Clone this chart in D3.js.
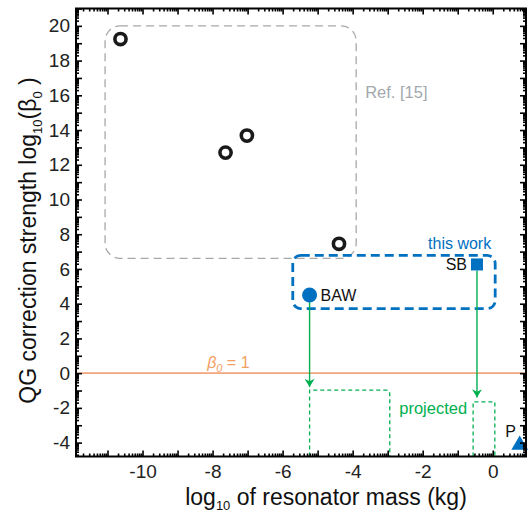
<!DOCTYPE html>
<html>
<head>
<meta charset="utf-8">
<script src="https://d3js.org/d3.v7.min.js"></script>
<style>
    body { margin: 0; background: #fff; }
    svg text { font-family: 'Liberation Sans', Arial, Helvetica, sans-serif; }
    .tick text { font-size: 19px; fill: #222; }
</style>
</head>
<body>
<svg id="chart" width="529" height="515"></svg>
<script>
// ---- data ----
var refMass = [-10.63, -7.63, -7.02, -4.39];          // Ref. [15]
var refBeta = [19.24, 12.70, 13.68, 7.45];
var workLabels = ["BAW", "SB"];                        // this work
var workMass = [-5.23, -0.45];
var workBeta = [4.50, 6.26];
var arrowTip = [-0.80, -1.40];                          // projected arrows end
var projLeft = [-5.23, -0.56];                          // projected boxes
var projRight = [-2.94, 0.06];
var projTop = [-0.98, -1.65];
var pMass = [0.77];                                     // "P" point
var pBeta = [-4.08];
var refBox = [-11.07, -3.90, 6.61, 20.0];               // x0, x1, y0, y1
var workBox = [-5.71, 0.07, 3.72, 6.78];
var xTickLabels = [-10, -8, -6, -4, -2, 0];
var yTickLabels = [-4, -2, 0, 2, 4, 6, 8, 10, 12, 14, 16, 18, 20];
var xDomain = [-11.9, 0.95];
var yDomain = [-4.8, 21];

var blue = "#0070c0", green = "#00b050", orange = "#f2a57c", grey = "#a8a8a8";

var svg = d3.select("#chart");
var pl = 76, pr = 526, pt = 8.5, pb = 456.5;

var x = d3.scaleLinear().domain(xDomain).range([pl, pr]);
var y = d3.scaleLinear().domain(yDomain).range([pb, pt]);

// log-style ticks: integers as majors, log10(2..9) minors
function majors(dom) {
    return d3.range(Math.ceil(dom[0]), Math.floor(dom[1]) + 1);
}
function minors(dom) {
    var out = [];
    for (var n = Math.floor(dom[0]); n <= Math.ceil(dom[1]); n++) {
        for (var k = 2; k <= 9; k++) {
            var v = n + Math.log10(k);
            if (v > dom[0] && v < dom[1]) out.push(v);
        }
    }
    return out;
}
function lab(list) {
    return function(d) { return list.indexOf(d) >= 0 ? String(d) : ""; };
}

function drawAxis(axisFn, scale, pos, dom, labels, pad) {
    var gMaj = svg.append("g").attr("transform", pos)
        .call(axisFn(scale).tickValues(majors(dom)).tickSize(-6).tickPadding(pad)
            .tickFormat(labels ? lab(labels) : ""));
    var gMin = svg.append("g").attr("transform", pos)
        .call(axisFn(scale).tickValues(minors(dom)).tickSize(-3).tickFormat(""));
    [gMaj, gMin].forEach(function(g) {
        g.select(".domain").remove();
        g.selectAll("line").attr("stroke", "#000").attr("stroke-width", 1.6);
    });
}

// reference line beta0 = 1
svg.append("line")
    .attr("x1", pl).attr("x2", pr)
    .attr("y1", y(0)).attr("y2", y(0))
    .attr("stroke", orange).attr("stroke-width", 1.6);

svg.append("text")
    .attr("x", x(-7.55)).attr("y", y(0) - 5)
    .attr("text-anchor", "middle")
    .attr("fill", "#f0a060")
    .style("font-size", "16px")
    .html("<tspan font-style='italic'>β</tspan><tspan dy='4' font-size='11' font-style='italic'>0</tspan><tspan dy='-4'> = 1</tspan>");

// Ref. [15] dashed box
svg.append("rect")
    .attr("x", x(refBox[0])).attr("y", y(refBox[3]))
    .attr("width", x(refBox[1]) - x(refBox[0]))
    .attr("height", y(refBox[2]) - y(refBox[3]))
    .attr("rx", 15).attr("ry", 15)
    .attr("fill", "none").attr("stroke", grey)
    .attr("stroke-width", 1.3).attr("stroke-dasharray", "8,5");

svg.append("text")
    .attr("x", x(refBox[1]) + 9).attr("y", y(refBox[3]) + 72)
    .attr("fill", "#a3a8ad").style("font-size", "16.5px")
    .text("Ref. [15]");

// this work dashed box
svg.append("rect")
    .attr("x", x(workBox[0])).attr("y", y(workBox[3]))
    .attr("width", x(workBox[1]) - x(workBox[0]))
    .attr("height", y(workBox[2]) - y(workBox[3]))
    .attr("rx", 8).attr("ry", 8)
    .attr("fill", "none").attr("stroke", blue)
    .attr("stroke-width", 2.8).attr("stroke-dasharray", "9,5");

svg.append("text")
    .attr("x", x(workBox[1]) - 4).attr("y", y(workBox[3]) - 6)
    .attr("text-anchor", "end")
    .attr("fill", blue).style("font-size", "16px")
    .text("this work");

// projected boxes
projLeft.forEach(function(l, i) {
    var r = i === 0 ? 4 : 0;
    var x0 = x(l), x1 = x(projRight[i]), yt = y(projTop[i]), yb = pb;
    var p = "M" + x0 + "," + yb + "V" + yt + "H" + (x1 - r) +
        (r ? "Q" + x1 + "," + yt + " " + x1 + "," + (yt + r) : "") + "V" + yb;
    svg.append("path").attr("d", p)
        .attr("fill", "none").attr("stroke", green)
        .attr("stroke-width", 1.3).attr("stroke-dasharray", "4,3");
});

svg.append("text")
    .attr("x", x(-1.7)).attr("y", y(projTop[1]) + 12)
    .attr("text-anchor", "middle")
    .attr("fill", green).style("font-size", "16.5px")
    .text("projected");

// arrows
var defs = svg.append("defs");
defs.append("marker")
    .attr("id", "head").attr("markerUnits", "userSpaceOnUse")
    .attr("viewBox", "0 0 10 12").attr("refX", 10).attr("refY", 6)
    .attr("markerWidth", 13).attr("markerHeight", 10)
    .attr("orient", "auto")
    .append("path").attr("d", "M0,0L10,6L0,12L3,6Z").attr("fill", green);

workMass.forEach(function(m, i) {
    svg.append("line")
        .attr("x1", x(m)).attr("x2", x(m))
        .attr("y1", y(workBeta[i]) + 6).attr("y2", y(arrowTip[i]))
        .attr("stroke", green).attr("stroke-width", 1.4)
        .attr("marker-end", "url(#head)");
});

// Ref. [15] open circles
svg.selectAll(".ref").data(refMass).enter().append("circle")
    .attr("class", "ref")
    .attr("cx", function(d) { return x(d); })
    .attr("cy", function(d, i) { return y(refBeta[i]); })
    .attr("r", 5.6)
    .attr("fill", "#fff").attr("stroke", "#1a1a1a").attr("stroke-width", 3.6);

// BAW circle, SB square
svg.append("circle")
    .attr("cx", x(workMass[0])).attr("cy", y(workBeta[0])).attr("r", 7.5)
    .attr("fill", blue);
svg.append("rect")
    .attr("x", x(workMass[1]) - 6).attr("y", y(workBeta[1]) - 6)
    .attr("width", 12).attr("height", 12)
    .attr("fill", blue);

svg.append("text")
    .attr("x", x(workMass[0]) + 11).attr("y", y(workBeta[0]))
    .attr("dy", "0.35em").style("font-size", "16px").attr("fill", "#111")
    .text(workLabels[0]);
svg.append("text")
    .attr("x", x(workMass[1]) - 10).attr("y", y(workBeta[1]))
    .attr("dy", "0.35em").attr("text-anchor", "end")
    .style("font-size", "16px").attr("fill", "#111")
    .text(workLabels[1]);

// P triangle
svg.append("path")
    .attr("d", d3.symbol().type(d3.symbolTriangle).size(120)())
    .attr("transform", "translate(" + x(pMass[0]) + "," + (y(pBeta[0]) + 1) + ")")
    .attr("fill", blue);
svg.append("text")
    .attr("x", x(pMass[0]) - 9).attr("y", y(pBeta[0]) - 7)
    .attr("text-anchor", "middle")
    .style("font-size", "16px").attr("fill", "#111")
    .text("P");

// axes (ticks inward on all four sides)
drawAxis(d3.axisBottom, x, "translate(0," + pb + ")", xDomain, xTickLabels, 8);
drawAxis(d3.axisTop, x, "translate(0," + pt + ")", xDomain, null, 3);
drawAxis(d3.axisLeft, y, "translate(" + pl + ",0)", yDomain, yTickLabels, 6);
drawAxis(d3.axisRight, y, "translate(" + pr + ",0)", yDomain, null, 3);

svg.append("rect")
    .attr("x", pl).attr("y", pt)
    .attr("width", pr - pl).attr("height", pb - pt)
    .attr("fill", "none").attr("stroke", "#000").attr("stroke-width", 2);

// axis titles
svg.append("text")
    .attr("x", 326).attr("y", 505)
    .attr("text-anchor", "middle")
    .style("font-size", "23px").attr("fill", "#111")
    .html("log<tspan dy='5' font-size='13'>10</tspan><tspan dy='-5'> of resonator mass (kg)</tspan>");

svg.append("text")
    .attr("transform", "translate(36," + ((pt + pb) / 2 + 8) + ") rotate(-90)")
    .attr("text-anchor", "middle")
    .style("font-size", "23px").attr("fill", "#111")
    .html("QG correction strength log<tspan dy='6' font-size='13'>10</tspan><tspan dy='-6'>(β</tspan><tspan dy='6' font-size='13'>0</tspan><tspan dy='-6'> )</tspan>");
</script>
</body>
</html>
